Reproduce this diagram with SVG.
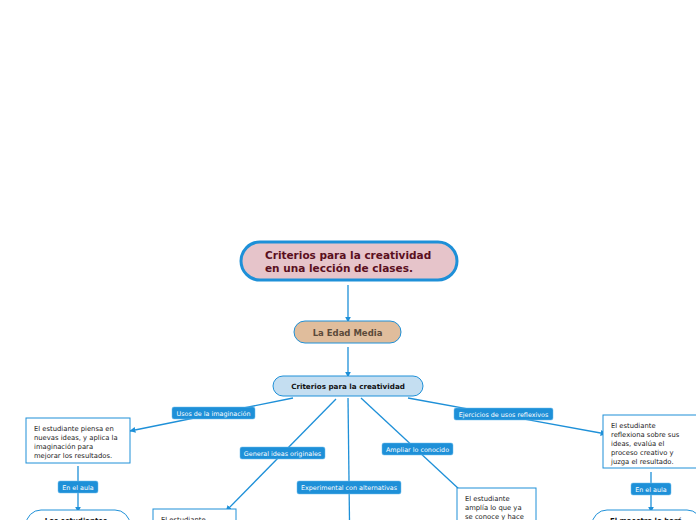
<svg xmlns="http://www.w3.org/2000/svg" width="696" height="520" viewBox="0 0 696 520">
<style>
text{font-family:"DejaVu Sans","Liberation Sans",sans-serif}
.ln{stroke:#1e90d8;stroke-width:1.3;fill:none}
.lb rect{fill:#1e90d8;stroke:#6fbcec;stroke-width:0.5}
.lb text{fill:#fff;font-size:6.4px;text-anchor:middle}
.box{fill:#fff;stroke:#1e90d8;stroke-width:1}
.bt{font-size:6.8px;fill:#222}
</style>
<defs>
<marker id="ar" viewBox="0 0 10 10" refX="9" refY="5" markerWidth="6" markerHeight="6" orient="auto" markerUnits="userSpaceOnUse">
<path d="M0,0 L10,5 L0,10 z" fill="#1e90d8"/>
</marker>
</defs>
<rect width="696" height="520" fill="#fff"/>
<g id="connectors">
<line class="ln" x1="348" y1="285" x2="348" y2="322" marker-end="url(#ar)"/>
<line class="ln" x1="348" y1="347" x2="348" y2="377" marker-end="url(#ar)"/>
<line class="ln" x1="293" y1="398" x2="130" y2="431" marker-end="url(#ar)"/>
<line class="ln" x1="336" y1="399" x2="226" y2="511" marker-end="url(#ar)"/>
<line class="ln" x1="348" y1="398" x2="349.5" y2="521"/>
<line class="ln" x1="361" y1="398" x2="460" y2="490"/>
<line class="ln" x1="408" y1="398" x2="606" y2="434" marker-end="url(#ar)"/>
<line class="ln" x1="78" y1="466" x2="78" y2="512" marker-end="url(#ar)"/>
<line class="ln" x1="651" y1="472" x2="651" y2="512" marker-end="url(#ar)"/>
<g class="lb"><rect x="172" y="407" width="83" height="12" rx="2"/><text x="213.5" y="415.5">Usos de la imaginación</text></g>
<g class="lb"><rect x="240" y="447" width="85" height="12" rx="2"/><text x="282.5" y="455.5">General ideas originales</text></g>
<g class="lb"><rect x="297" y="481" width="104" height="13" rx="2"/><text x="349" y="490">Experimental con alternativas</text></g>
<g class="lb"><rect x="382" y="443" width="71" height="12" rx="2"/><text x="417.5" y="451.5">Ampliar lo conocido</text></g>
<g class="lb"><rect x="454" y="408" width="99" height="12" rx="2"/><text x="503.5" y="416.5">Ejercicios de usos reflexivos</text></g>
<g class="lb"><rect x="58" y="481" width="40" height="12" rx="2"/><text x="78" y="489.5">En el aula</text></g>
<g class="lb"><rect x="631" y="483" width="40" height="12" rx="2"/><text x="651" y="491.5">En el aula</text></g>
</g>
<g id="root">
<rect x="241" y="242" width="216" height="38" rx="19" fill="#e6c4ca" stroke="#1e90d8" stroke-width="3"/>
<text x="265" y="259" font-size="10.5" font-weight="bold" fill="#5a0f1e">Criterios para la creatividad</text>
<text x="265" y="272" font-size="10.5" font-weight="bold" fill="#5a0f1e">en una lección de clases.</text>
</g>
<g id="edad-media">
<rect x="294" y="321" width="107" height="22" rx="11" fill="#e0bd9c" stroke="#1e90d8" stroke-width="1"/>
<text x="347.5" y="335.5" font-size="8.5" font-weight="bold" fill="#5b4a3a" text-anchor="middle">La Edad Media</text>
</g>
<g id="criterios">
<rect x="273" y="376" width="150" height="20" rx="10" fill="#c4def1" stroke="#1e90d8" stroke-width="1"/>
<text x="348" y="389" font-size="7.2" font-weight="bold" fill="#111" text-anchor="middle">Criterios para la creatividad</text>
</g>
<g id="n-imaginacion">
<rect class="box" x="26" y="418" width="104" height="45"/>
<text class="bt" x="34" y="431">El estudiante piensa en</text>
<text class="bt" x="34" y="440">nuevas ideas, y aplica la</text>
<text class="bt" x="34" y="449">imaginación para</text>
<text class="bt" x="34" y="458">mejorar los resultados.</text>
</g>
<g id="n-estudiantes">
<rect class="box" x="26" y="510" width="104" height="40" rx="15"/>
<text x="76" y="523" font-size="7" font-weight="bold" fill="#111" text-anchor="middle">Los estudiantes</text>
</g>
<g id="n-originales">
<rect class="box" x="153" y="509" width="83" height="40"/>
<text class="bt" x="161" y="522">El estudiante</text>
</g>
<g id="n-amplia">
<rect class="box" x="457" y="488" width="79" height="45"/>
<text class="bt" x="465" y="501">El estudiante</text>
<text class="bt" x="465" y="510">amplía lo que ya</text>
<text class="bt" x="465" y="519">se conoce y hace</text>
</g>
<g id="n-reflexiona">
<rect class="box" x="603" y="415" width="96" height="53"/>
<text class="bt" x="611" y="428">El estudiante</text>
<text class="bt" x="611" y="437">reflexiona sobre sus</text>
<text class="bt" x="611" y="446">ideas, evalúa el</text>
<text class="bt" x="611" y="455">proceso creativo y</text>
<text class="bt" x="611" y="464">juzga el resultado.</text>
</g>
<g id="n-maestro">
<rect class="box" x="592" y="510" width="110" height="40" rx="15"/>
<text x="646" y="523" font-size="7" font-weight="bold" fill="#111" text-anchor="middle">El maestro lo hará</text>
</g>
</svg>
